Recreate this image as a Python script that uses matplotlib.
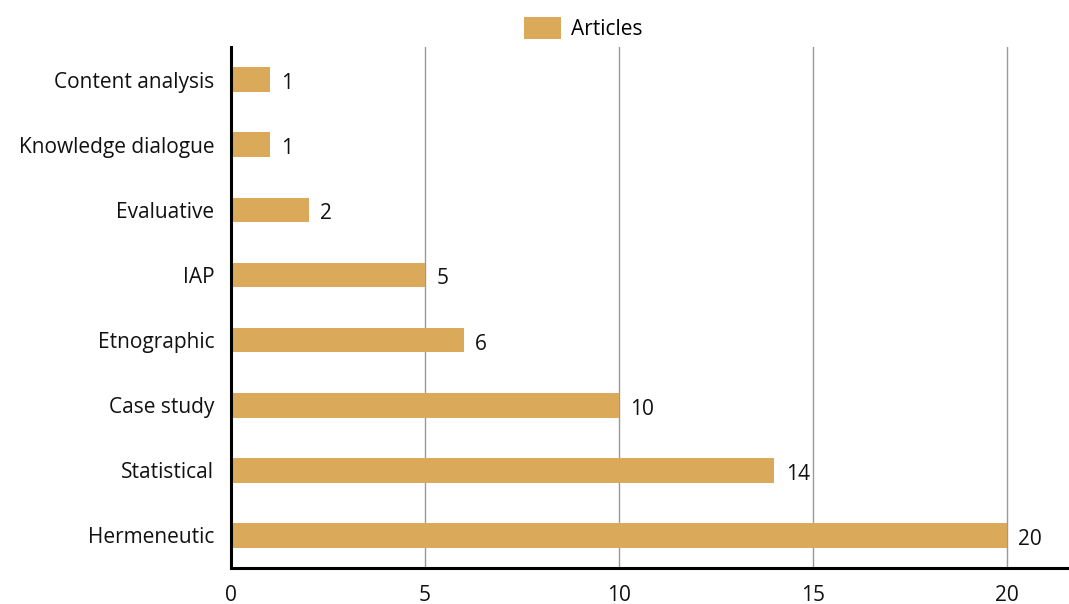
import matplotlib
matplotlib.use("Agg")
from matplotlib import pyplot as plt

categories = ["Hermeneutic", "Statistical", "Case study", "Etnographic",
              "IAP", "Evaluative", "Knowledge dialogue", "Content analysis"]
articles = [20, 14, 10, 6, 5, 2, 1, 1]
x_ticks = [0, 5, 10, 15, 20]

bar_color = "#DBA95A"

plt.rcParams['font.family'] = ['Open Sans', 'DejaVu Sans']

fig = plt.figure(figsize=(10.69, 6.04), dpi=100)
ax = fig.add_axes([0.2161, 0.0596, 0.7819, 0.8624])

y = list(range(len(categories)))
bars = ax.barh(y, articles, height=0.38, color=bar_color, label="Articles", zorder=3)

for yi, v in zip(y, articles):
    ax.text(v + 0.3, yi - 0.06, str(v), va="center", ha="left", fontsize=15, color="#111111")

ax.set_yticks(y)
ax.set_yticklabels(categories, fontsize=15, color="#111111")
ax.set_xticks(x_ticks)
ax.set_xticklabels([str(t) for t in x_ticks], fontsize=15, color="#111111")
ax.set_xlim(0, 21.55)
ax.set_ylim(-0.5, 7.5)

ax.tick_params(axis="both", length=0)
ax.tick_params(axis="y", pad=12)
ax.tick_params(axis="x", pad=12)
ax.grid(axis="x", color="#999999", linewidth=1, zorder=0)

for side in ["top", "right"]:
    ax.spines[side].set_visible(False)
ax.spines["left"].set_linewidth(2.2)
ax.spines["bottom"].set_linewidth(2.2)
ax.spines["left"].set_zorder(4)
ax.spines["bottom"].set_zorder(4)

fig.legend(handles=[bars], labels=["Articles"], loc="upper center",
           bbox_to_anchor=(0.546, 1.003), frameon=False, fontsize=15,
           handlelength=1.75, handleheight=1.25, handletextpad=0.5)

fig.savefig("out.png", dpi=100)
